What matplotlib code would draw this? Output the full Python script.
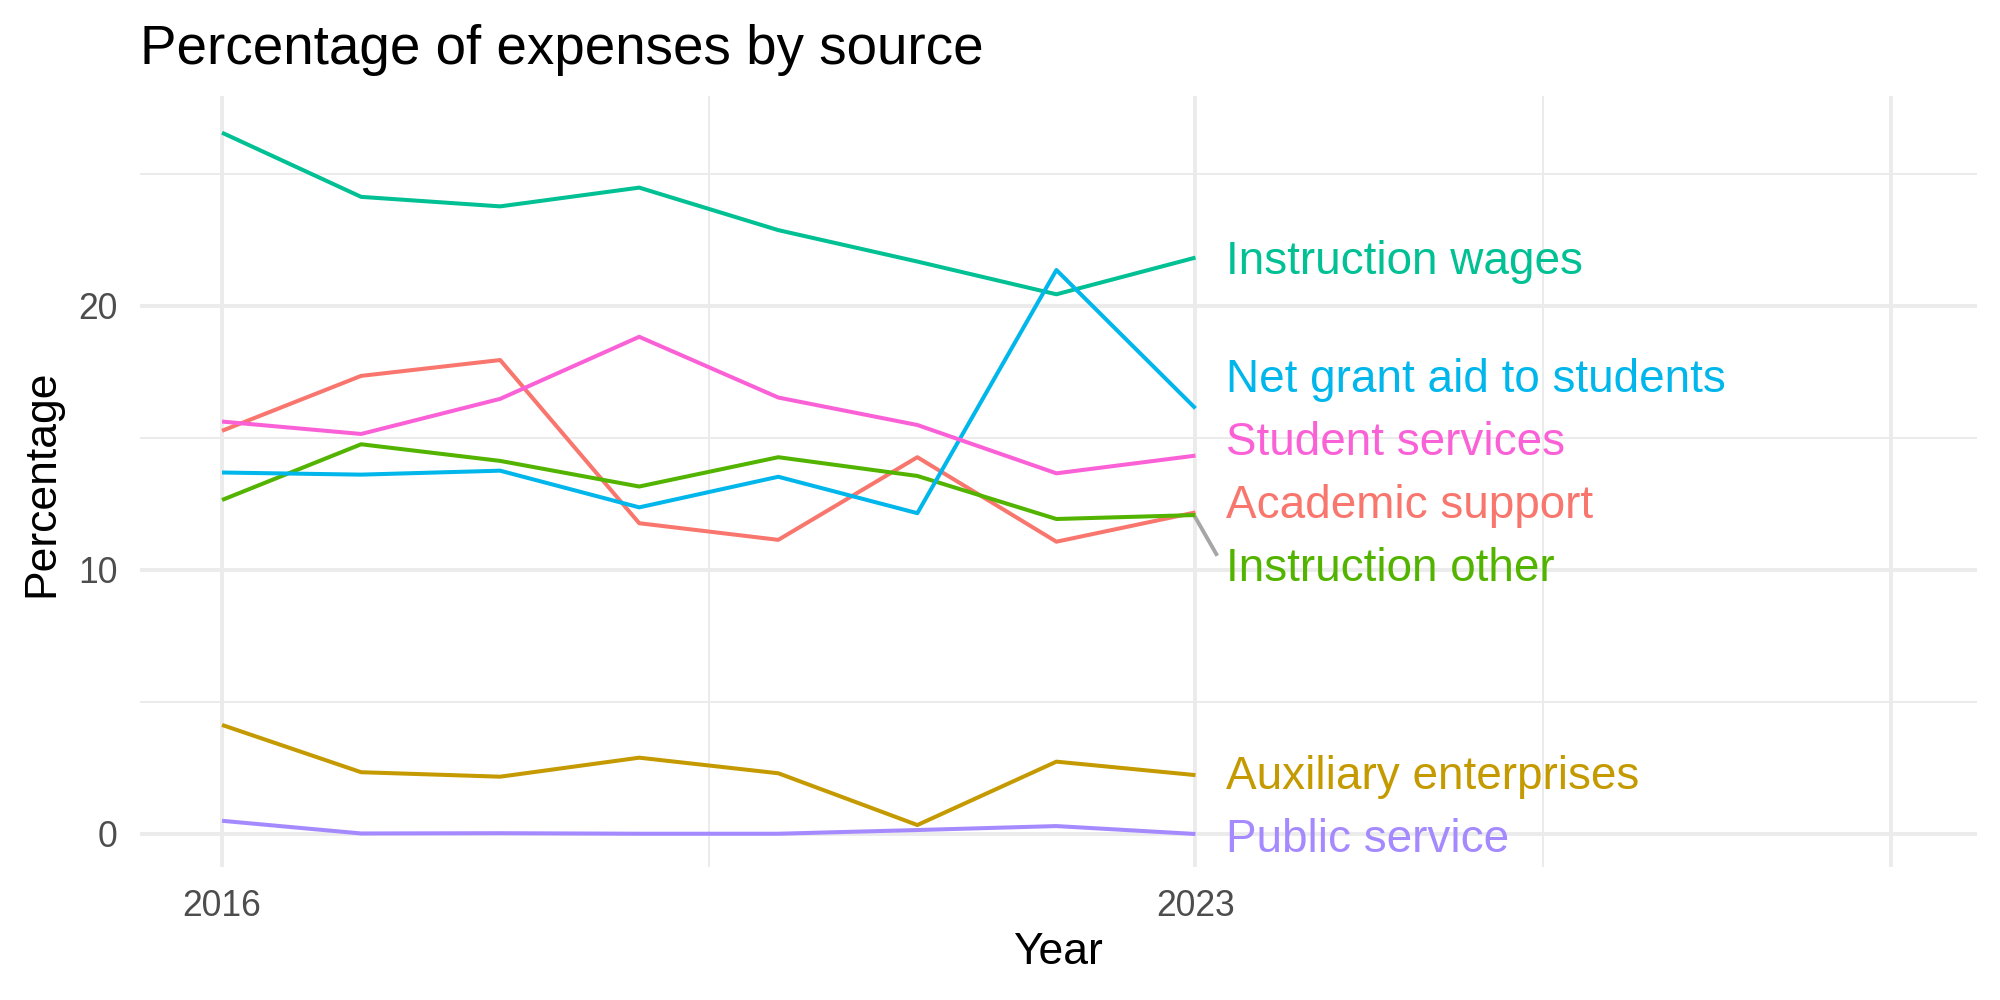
import matplotlib
matplotlib.use("Agg")
import matplotlib.pyplot as plt

plt.rcParams["font.family"] = ["Liberation Sans", "DejaVu Sans"]

years = [2016, 2017, 2018, 2019, 2020, 2021, 2022, 2023]

academic_support = [15.27, 17.35, 17.95, 11.77, 11.14, 14.27, 11.07, 12.18]
auxiliary_enterprises = [4.13, 2.34, 2.17, 2.89, 2.30, 0.34, 2.74, 2.23]
instruction_other = [12.65, 14.76, 14.13, 13.16, 14.27, 13.56, 11.93, 12.08]
instruction_wages = [26.56, 24.13, 23.77, 24.48, 22.87, 21.68, 20.44, 21.83]
net_grant_aid = [13.69, 13.61, 13.76, 12.37, 13.53, 12.15, 21.36, 16.12]
public_service = [0.50, 0.02, 0.03, 0.01, 0.01, 0.15, 0.30, 0.00]
student_services = [15.62, 15.15, 16.48, 18.83, 16.53, 15.49, 13.66, 14.33]

series_names = [
    "Academic support",
    "Auxiliary enterprises",
    "Instruction other",
    "Instruction wages",
    "Net grant aid to students",
    "Public service",
    "Student services",
]
series_values = [
    academic_support,
    auxiliary_enterprises,
    instruction_other,
    instruction_wages,
    net_grant_aid,
    public_service,
    student_services,
]
colors = ["#F8766D", "#C49A00", "#53B400", "#00C094", "#00B6EB", "#A58AFF", "#FB61D7"]

# label baselines after repelling
label_y = [11.96, 1.69, 9.58, 21.21, 16.75, -0.67, 14.36]

fig = plt.figure(figsize=(10, 5), dpi=200)
ax = fig.add_axes([0.07, 0.133, 0.9185, 0.771])

ax.set_xlim(2015.41, 2028.62)
ax.set_ylim(-1.25, 27.95)

ax.set_xticks([2016, 2023, 2028])
ax.set_xticklabels(["2016", "2023", ""])
ax.set_xticks([2019.5, 2025.5], minor=True)
ax.set_yticks([0, 10, 20])
ax.set_yticks([5, 15, 25], minor=True)

ax.grid(which="major", color="#EBEBEB", linewidth=1.4)
ax.grid(which="minor", color="#EBEBEB", linewidth=0.7)
ax.set_axisbelow(True)
for s in ax.spines.values():
    s.set_visible(False)
ax.tick_params(which="both", length=0)
ax.tick_params(axis="x", labelsize=12.8, labelcolor="#4D4D4D", pad=8)
ax.tick_params(axis="y", labelsize=12.8, labelcolor="#4D4D4D", pad=8)

for name, vals, col, ly in zip(series_names, series_values, colors, label_y):
    ax.plot(years, vals, color=col, linewidth=1.45, solid_capstyle="butt", zorder=3)
    ax.text(2023.22, ly, name, color=col, fontsize=16.5, ha="left", va="baseline", zorder=4)

# repel segment for the displaced label
ax.plot([2023.0, 2023.15], [instruction_other[-1] - 0.1, 10.6], color="#A6A6A6",
        linewidth=1.4, zorder=2)

fig.text(0.07, 0.936, "Percentage of expenses by source", fontsize=19.7, ha="left",
         va="baseline")
fig.text(0.529, 0.047, "Year", fontsize=16, ha="center", va="center")
fig.text(0.021, 0.517, "Percentage", fontsize=16, ha="center", va="center", rotation=90)

fig.savefig("out.png", dpi=200)
